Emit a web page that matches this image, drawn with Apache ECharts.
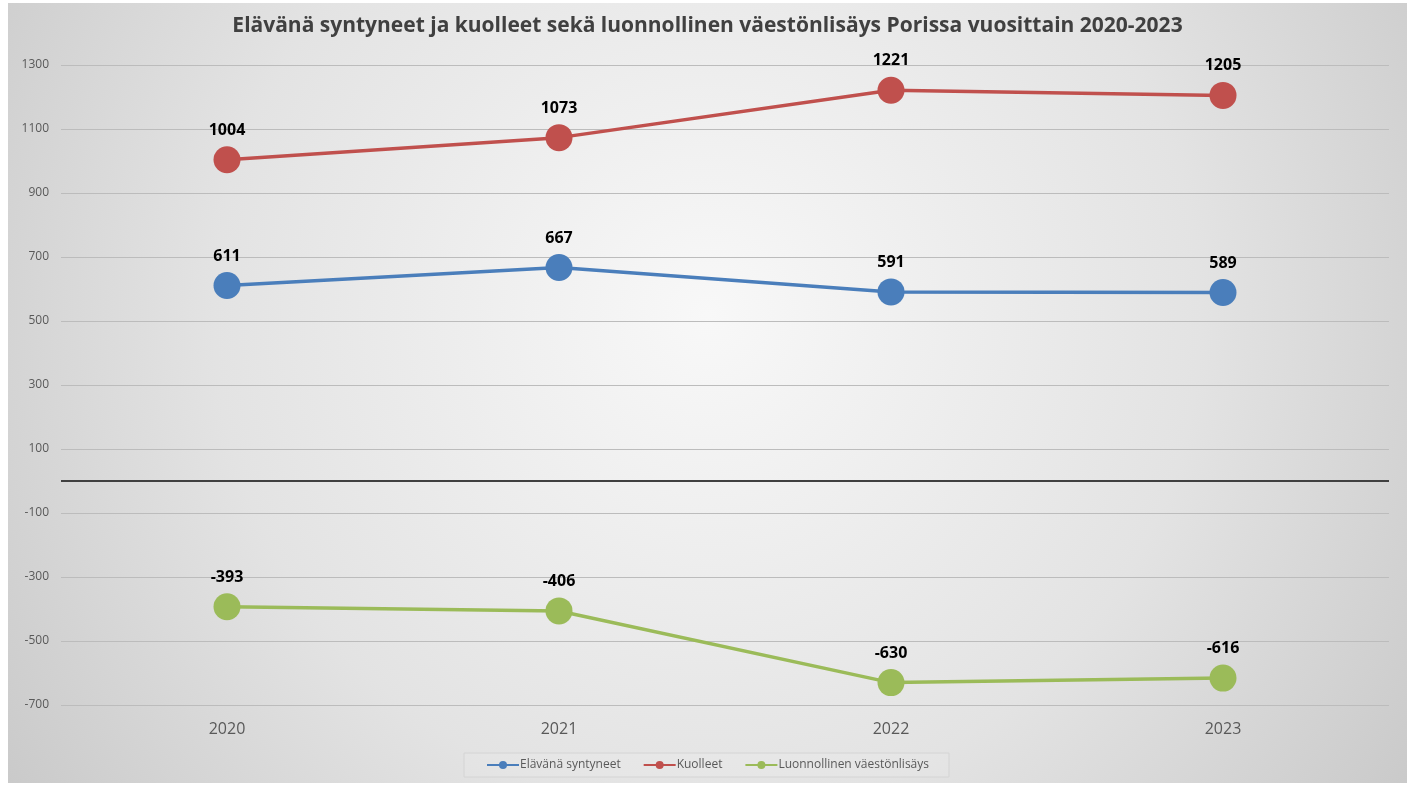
<!DOCTYPE html>
<html>
<head>
<meta charset="utf-8">
<script src="https://cdn.jsdelivr.net/npm/echarts@6/dist/echarts.min.js"></script>
<style>
  html, body { margin: 0; padding: 0; background: #fff; }
  #chart {
    position: absolute;
    left: 8px;
    top: 3px;
    width: 1399px;
    height: 780px;
  }
</style>
</head>
<body>
<div id="chart"></div>
<script>
const years = ['2020', '2021', '2022', '2023'];
const births = [611, 667, 591, 589];
const deaths = [1004, 1073, 1221, 1205];
const natural = [-393, -406, -630, -616];
const yTicks = [-700, -500, -300, -100, 100, 300, 500, 700, 900, 1100, 1300];

const chart = echarts.init(document.getElementById('chart'));

function lineSeries(name, data, color) {
  return {
    name: name,
    type: 'line',
    data: data,
    symbol: 'circle',
    symbolSize: 27,
    lineStyle: { color: color, width: 3.5 },
    itemStyle: { color: color },
    label: {
      show: true,
      position: 'top',
      distance: 8,
      color: '#000',
      fontWeight: 'bold',
      fontSize: 16,
      fontFamily: 'Open Sans'
    },
    z: 3
  };
}

const series = [
  lineSeries('Elävänä syntyneet', births, '#4a7ebb'),
  lineSeries('Kuolleet', deaths, '#c0504d'),
  lineSeries('Luonnollinen väestönlisäys', natural, '#9bbb59')
];
// dark line at zero
series[0].markLine = {
  silent: true,
  symbol: 'none',
  label: { show: false },
  lineStyle: { color: '#404040', width: 2, type: 'solid' },
  data: [{ yAxis: 0 }],
  z: 1
};

chart.setOption({
  animation: false,
  backgroundColor: {
    type: 'radial',
    x: 0.5, y: 0.4, r: 1.15,
    colorStops: [
      { offset: 0, color: '#f8f8f8' },
      { offset: 0.55, color: '#e3e3e3' },
      { offset: 1, color: '#c6c6c6' }
    ]
  },
  title: {
    text: 'Elävänä syntyneet ja kuolleet sekä luonnollinen väestönlisäys Porissa vuosittain 2020-2023',
    left: 'center',
    top: 8,
    textStyle: {
      color: '#404040',
      fontSize: 21,
      fontWeight: 'bold',
      fontFamily: 'Open Sans'
    }
  },
  legend: {
    bottom: 6,
    left: 'center',
    itemWidth: 32,
    itemHeight: 10,
    itemGap: 22,
    padding: [6, 20, 6, 22],
    borderColor: '#d4d4d4',
    borderWidth: 1,
    backgroundColor: 'rgba(255,255,255,0.08)',
    textStyle: { color: '#595959', fontSize: 12, fontFamily: 'Open Sans', padding: [0, 0, 0, -4] },
    data: series.map(s => s.name)
  },
  grid: { left: 53, right: 18, top: 62, bottom: 78 },
  xAxis: {
    type: 'category',
    data: years,
    boundaryGap: true,
    axisLine: { show: false, onZero: false },
    axisTick: { show: false },
    axisLabel: { color: '#595959', fontSize: 16, margin: 16, fontFamily: 'Open Sans' }
  },
  yAxis: {
    type: 'value',
    min: -700,
    max: 1300,
    axisLine: { show: false },
    axisTick: { show: false, customValues: yTicks },
    axisLabel: {
      color: '#595959', fontSize: 12, margin: 12, fontFamily: 'Open Sans',
      customValues: yTicks,
      formatter: v => String(v)
    },
    splitLine: { lineStyle: { color: '#bcbcbc', width: 1 } }
  },
  series: series
});
</script>
</body>
</html>
